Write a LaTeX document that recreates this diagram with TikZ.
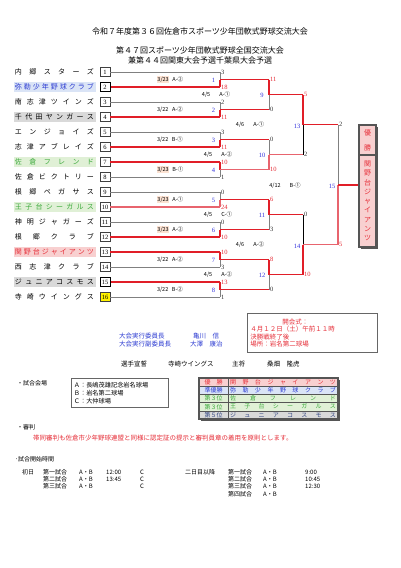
\documentclass[tikz,border=0pt]{standalone}
\usepackage{fontspec}
\setmainfont{Noto Sans CJK JP}
\newfontfamily\sr{Liberation Serif}
\definecolor{winred}{RGB}{225,30,40}
\definecolor{winlt}{RGB}{232,100,110}
\definecolor{redT}{RGB}{230,45,55}
\definecolor{blueT}{RGB}{45,60,210}
\definecolor{greenT}{RGB}{60,170,60}
\definecolor{navyT}{RGB}{50,70,130}
\definecolor{pinkBG}{RGB}{248,208,208}
\definecolor{blueBG}{RGB}{218,228,246}
\definecolor{greenBG}{RGB}{224,240,214}
\definecolor{greyBG}{RGB}{217,217,217}
\definecolor{peach}{RGB}{252,226,210}
\definecolor{mnblue}{RGB}{50,50,220}
\definecolor{dgrey}{RGB}{85,85,85}
\def\sprend{}
\def\spr#1{\sprA#1\sprend}
\def\sprA#1{\ifx#1\sprend\else#1\expandafter\sprB\fi}
\def\sprB#1{\ifx#1\sprend\else\hfill#1\expandafter\sprB\fi}
\newcommand{\hl}[1]{{\fboxsep=0.7pt\colorbox{peach}{#1}}}
\newcommand{\tn}[1]{\makebox[79pt]{\spr{#1}}}
\newcommand{\rn}[1]{\makebox[106pt]{\spr{#1}}}
\begin{document}
\begin{tikzpicture}[x=1pt,y=-1pt,
  every node/.style={inner sep=0pt},
  ttl/.style={font=\fontsize{8}{8}\selectfont},
  txt/.style={font=\fontsize{6.5}{6.5}\selectfont},
  sm/.style={font=\fontsize{6}{6}\selectfont},
  tname/.style={inner xsep=1.5pt, inner ysep=1.2pt, minimum height=10, font=\fontsize{7}{7}\selectfont},
  nbox/.style={draw=black!75, line width=0.6pt, minimum width=10, minimum height=8.5, font=\sr\fontsize{6.5}{6.5}\selectfont},
  win/.style={draw=winred, line width=1.1pt},
  winl/.style={draw=winlt, line width=1.1pt},
  lose/.style={draw=gray, line width=0.8pt},
  blk/.style={draw=black, line width=0.8pt},
  sw/.style={anchor=west, inner xsep=1pt, text=redT, font=\sr\fontsize{6.5}{6.5}\selectfont},
  sl/.style={anchor=west, inner xsep=1pt, text=black!80, font=\sr\fontsize{6.5}{6.5}\selectfont},
  mn/.style={text=mnblue, font=\sr\fontsize{6.5}{6.5}\selectfont},
  lbl/.style={font=\fontsize{5.5}{5.5}\selectfont},
  rk/.style={minimum height=8.2, draw=dgrey, line width=0.4pt, font=\fontsize{6}{6}\selectfont}
]
\useasboundingbox (0,0) rectangle (401,568);
\fill[white] (0,0) rectangle (401,568);

% titles
\node[ttl] (t1) at (200,31) {令和７年度第３６回佐倉市スポーツ少年団軟式野球交流大会};
\node[ttl] (t2) at (200,50) {第４７回スポーツ少年団軟式野球全国交流大会};
\node[ttl] (t3) at (200,60) {兼第４４回関東大会予選千葉県大会予選};

% team names
\node[tname] (n1) at (54.5,72) {\tn{内郷スターズ}};
\node[tname, fill=blueBG, text=blueT] (n2) at (54.5,87) {\tn{弥勒少年野球クラブ}};
\node[tname] (n3) at (54.5,102) {\tn{南志津ツインズ}};
\node[tname, fill=greyBG] (n4) at (54.5,117) {\tn{千代田ヤンガース}};
\node[tname] (n5) at (54.5,132) {\tn{エンジョイズ}};
\node[tname] (n6) at (54.5,147) {\tn{志津アブレイズ}};
\node[tname, fill=greenBG, text=greenT] (n7) at (54.5,162) {\tn{佐倉フレンド}};
\node[tname] (n8) at (54.5,177) {\tn{佐倉ビクトリー}};
\node[tname] (n9) at (54.5,192) {\tn{根郷ペガサス}};
\node[tname, fill=greenBG, text=greenT] (n10) at (54.5,207) {\tn{王子台シーガルス}};
\node[tname] (n11) at (54.5,222) {\tn{神明ジャガーズ}};
\node[tname] (n12) at (54.5,237) {\tn{根郷クラブ}};
\node[tname, fill=pinkBG, text=redT] (n13) at (54.5,252) {\tn{関野台ジャイアンツ}};
\node[tname] (n14) at (54.5,267) {\tn{西志津クラブ}};
\node[tname, fill=greyBG] (n15) at (54.5,282) {\tn{ジュニアコスモス}};
\node[tname] (n16) at (54.5,297) {\tn{寺崎ウイングス}};

% number boxes
\foreach \i in {1,...,16} {
  \ifnum\i=16
    \node[nbox, fill=yellow] (b\i) at (105,{57+15*\i}) {\i};
  \else\ifnum\i=2
    \node[nbox, line width=1pt, draw=black] (b\i) at (105,{57+15*\i}) {\i};
  \else\ifnum\i=15
    \node[nbox, line width=1pt, draw=black] (b\i) at (105,{57+15*\i}) {\i};
  \else
    \node[nbox] (b\i) at (105,{57+15*\i}) {\i};
  \fi\fi\fi
}

% bracket coordinates
\foreach \i in {1,...,16} \coordinate (e\i) at (220,{57+15*\i});
\foreach \m in {1,...,8} {
  \coordinate (m\m) at (220,{49.5+30*\m});
  \coordinate (f\m) at (269,{49.5+30*\m});
}
\foreach \k in {1,...,4} {
  \coordinate (p\k) at (269,{34.5+60*\k});
  \coordinate (g\k) at (303,{34.5+60*\k});
}
\foreach \j in {1,2} {
  \coordinate (q\j) at (303,{4.5+120*\j});
  \coordinate (h\j) at (338,{4.5+120*\j});
}
\coordinate (fin) at (338,184.5);

% round 1 team lines
\foreach \i/\s in {1/lose,2/win,3/lose,4/win,5/lose,6/win,7/win,8/lose,9/lose,10/winl,11/lose,12/win,13/win,14/lose,15/win,16/lose}
  \draw[\s] (b\i.east) -- (e\i);
% round 1 verticals
\foreach \m/\a/\b/\sa/\sb in {1/1/2/lose/win,2/3/4/lose/win,3/5/6/lose/win,4/7/8/win/lose,5/9/10/lose/winl,6/11/12/lose/win,7/13/14/win/lose,8/15/16/win/lose} {
  \draw[\sa] (e\a) -- (m\m);
  \draw[\sb] (m\m) -- (e\b);
}
% round 2
\foreach \m/\s in {1/win,2/win,3/win,4/winl,5/win,6/win,7/win,8/win}
  \draw[\s] (m\m) -- (f\m);
\foreach \k/\a/\b/\sa/\sb in {1/1/2/win/lose,2/3/4/lose/winl,3/5/6/win/lose,4/7/8/win/lose} {
  \draw[\sa] (f\a) -- (p\k);
  \draw[\sb] (p\k) -- (f\b);
}
% round 3
\foreach \k/\s in {1/win,2/winl,3/win,4/win}
  \draw[\s] (p\k) -- (g\k);
\draw[win] (g1) -- (q1);
\draw[blk] (q1) -- (g2);
\draw[blk] (g3) -- (q2);
\draw[win] (q2) -- (g4);
% final
\draw[win] (q1) -- (h1);
\draw[winl] (q2) -- (h2);
\draw[lose] (h1) -- (fin);
\draw[winl] (fin) -- (h2);

% champion box
\fill[dgrey] (361,127) rectangle (378,157);
\fill[dgrey] (361,157) rectangle (378,249);
\node[draw=dgrey, line width=1.2pt, fill=pinkBG, minimum width=17, minimum height=30, text=redT, align=center, font=\fontsize{7}{15}\selectfont] (yusho) at (367.5,140) {優\\勝};
\node[draw=dgrey, line width=1.2pt, fill=pinkBG, minimum width=17, minimum height=92, text=redT, align=center, font=\fontsize{7}{9.3}\selectfont] (champ) at (367.5,201) {関\\野\\台\\ジ\\ャ\\イ\\ア\\ン\\ツ};
\draw[winred, line width=2pt] (fin) -- (fin -| champ.west);

% scores
\foreach \c/\t/\s in {e1/3/sl,e2/18/sw,e3/2/sl,e4/11/sw,e5/3/sl,e6/11/sw,e7/10/sw,e8/1/sl,e9/0/sl,e10/24/sw,e11/0/sl,e12/10/sw,e13/10/sw,e14/3/sl,e15/13/sw,e16/1/sl,
  f1/11/sw,f2/0/sl,f3/0/sl,f4/10/sw,f5/6/sw,f6/3/sl,f7/8/sw,f8/0/sl,
  g1/5/sw,g2/2/sl,g3/0/sl,g4/10/sw,h1/2/sl,h2/5/sw}
  \node[\s] (sc-\c) at (\c) {\t};

% match numbers
\foreach \m in {1,...,8} \node[mn] (mn\m) at (213.5,{50.5+30*\m}) {\m};
\foreach \k/\n in {1/9,2/10,3/11,4/12} \node[mn] (mn\n) at (262,{35.5+60*\k}) {\n};
\node[mn] (mn13) at (297,126) {13};
\node[mn] (mn14) at (297,246) {14};
\node[mn] (mn15) at (332,186) {15};

% match labels
\node[lbl] (l1) at (170,79.5) {\hl{3/23}\hspace{3pt}A-②};
\node[lbl] (l2) at (170,109.5) {3/22\hspace{3.6pt}A-②};
\node[lbl] (l3) at (170,139.5) {3/22\hspace{3.6pt}B-①};
\node[lbl] (l4) at (170,169.5) {\hl{3/23}\hspace{3pt}B-①};
\node[lbl] (l5) at (170,199.5) {\hl{3/23}\hspace{3pt}A-①};
\node[lbl] (l6) at (170,229.5) {\hl{3/23}\hspace{3pt}A-②};
\node[lbl] (l7) at (170,259.5) {3/22\hspace{3.6pt}A-②};
\node[lbl] (l8) at (170,289.5) {3/22\hspace{3.6pt}B-②};
\node[lbl] (l9) at (216,94.5) {4/5\hspace{9pt}A-①};
\node[lbl] (l10) at (218,154.5) {4/5\hspace{9pt}A-②};
\node[lbl] (l11) at (218,214.5) {4/5\hspace{9pt}C-①};
\node[lbl] (l12) at (218,274.5) {4/5\hspace{9pt}A-②};
\node[lbl] (l13) at (250,125) {4/6\hspace{9pt}A-①};
\node[lbl] (l14) at (250,245) {4/6\hspace{9pt}A-②};
\node[lbl] (l15) at (285,186) {4/12\hspace{9pt}B-①};

% committee
\node[txt, anchor=west, text=blueT] (c1) at (119,336) {大会実行委員長};
\node[txt, anchor=west, text=blueT] (c1n) at (193,336) {亀川　信};
\node[txt, anchor=west, text=blueT] (c2) at (119,344) {大会実行副委員長};
\node[txt, anchor=west, text=blueT] (c2n) at (190,344) {大澤　康治};

% opening ceremony box
\node[draw=gray!80!black, line width=0.8pt, anchor=north west, minimum width=130, minimum height=39,
      text width=124, inner xsep=3pt, align=left, text=redT, font=\fontsize{6.5}{7.4}\selectfont] (cer) at (247,313)
  {\hspace*{32pt}開会式：\\４月１２日（土）午前１１時\\決勝戦終了後\\場所：岩名第二球場};

% oath
\node[txt, anchor=west] (o1) at (121,364) {選手宣誓};
\node[txt, anchor=west] (o2) at (168,364) {寺崎ウイングス};
\node[txt, anchor=west] (o3) at (232,364) {主将};
\node[txt, anchor=west] (o4) at (267,364) {桑畑　隆虎};

% venues
\node[sm, anchor=west] (hv) at (17,383) {・試合会場};
\node[draw=gray!80!black, line width=0.7pt, anchor=north west, minimum width=97, minimum height=29,
      text width=92, inner xsep=2pt, align=left, font=\fontsize{6.2}{8}\selectfont] (venue) at (71,378)
  {Ａ：長嶋茂雄記念岩名球場\\Ｂ：岩名第二球場\\Ｃ：大仲球場};

% ranking table
\fill[dgrey] (201,380) rectangle (340,421);
\node[rk, fill=pinkBG, text=redT, minimum width=29] (r1a) at (213.5,382.1) {優　勝};
\node[rk, fill=pinkBG, text=redT, minimum width=110] (r1b) at (283,382.1) {\rn{関野台ジャイアンツ}};
\node[rk, fill=blueBG, text=blueT, minimum width=29] (r2a) at (213.5,390.3) {準優勝};
\node[rk, fill=blueBG, text=blueT, minimum width=110] (r2b) at (283,390.3) {\rn{弥勒少年野球クラブ}};
\node[rk, fill=greenBG, text=greenT, minimum width=29] (r3a) at (213.5,398.5) {第３位};
\node[rk, fill=greenBG, text=greenT, minimum width=110] (r3b) at (283,398.5) {\rn{佐倉フレンド}};
\node[rk, fill=greenBG, text=greenT, minimum width=29] (r4a) at (213.5,406.7) {第３位};
\node[rk, fill=greenBG, text=greenT, minimum width=110] (r4b) at (283,406.7) {\rn{王子台シーガルス}};
\node[rk, fill=greyBG, text=navyT, minimum width=29] (r5a) at (213.5,414.9) {第５位};
\node[rk, fill=greyBG, text=navyT, minimum width=110] (r5b) at (283,414.9) {\rn{ジュニアコスモス}};
\draw[dgrey, line width=1.2pt] (199,378) rectangle (338,419);
\draw[dgrey, line width=0.9pt] (228,378) -- (228,419);

% referee
\node[sm, anchor=west] (hr) at (17,427) {・審判};
\node[txt, anchor=west, text=redT] (ref) at (33,438) {帯同審判も佐倉市少年野球連盟と同様に認定証の提示と審判員章の着用を原則とします。};

% schedule
\node[sm, anchor=west] (hs) at (15,459) {･試合開始時間};
\node[sm, anchor=west] (d1) at (22,472) {初日};
\node[sm, anchor=west] (d1g1) at (43,472) {第一試合};
\node[sm, anchor=west] (d1g2) at (43,479.3) {第二試合};
\node[sm, anchor=west] (d1g3) at (43,486.6) {第三試合};
\node[sm, anchor=west] (d1f1) at (79,472) {A・B};
\node[sm, anchor=west] (d1f2) at (79,479.3) {A・B};
\node[sm, anchor=west] (d1f3) at (79,486.6) {A・B};
\node[sm, anchor=west] (d1t1) at (106,472) {12:00};
\node[sm, anchor=west] (d1t2) at (106,479.3) {13:45};
\node[sm, anchor=west] (d1c1) at (140,472) {C};
\node[sm, anchor=west] (d1c2) at (140,479.3) {C};
\node[sm, anchor=west] (d1c3) at (140,486.6) {C};
\node[sm, anchor=west] (d2) at (185,472) {二日目以降};
\node[sm, anchor=west] (d2g1) at (228,472) {第一試合};
\node[sm, anchor=west] (d2g2) at (228,479.3) {第二試合};
\node[sm, anchor=west] (d2g3) at (228,486.6) {第三試合};
\node[sm, anchor=west] (d2g4) at (228,493.9) {第四試合};
\node[sm, anchor=west] (d2f1) at (263,472) {A・B};
\node[sm, anchor=west] (d2f2) at (263,479.3) {A・B};
\node[sm, anchor=west] (d2f3) at (263,486.6) {A・B};
\node[sm, anchor=west] (d2f4) at (263,493.9) {A・B};
\node[sm, anchor=west] (d2t1) at (305,472) {9:00};
\node[sm, anchor=west] (d2t2) at (305,479.3) {10:45};
\node[sm, anchor=west] (d2t3) at (305,486.6) {12:30};
\end{tikzpicture}
\end{document}
